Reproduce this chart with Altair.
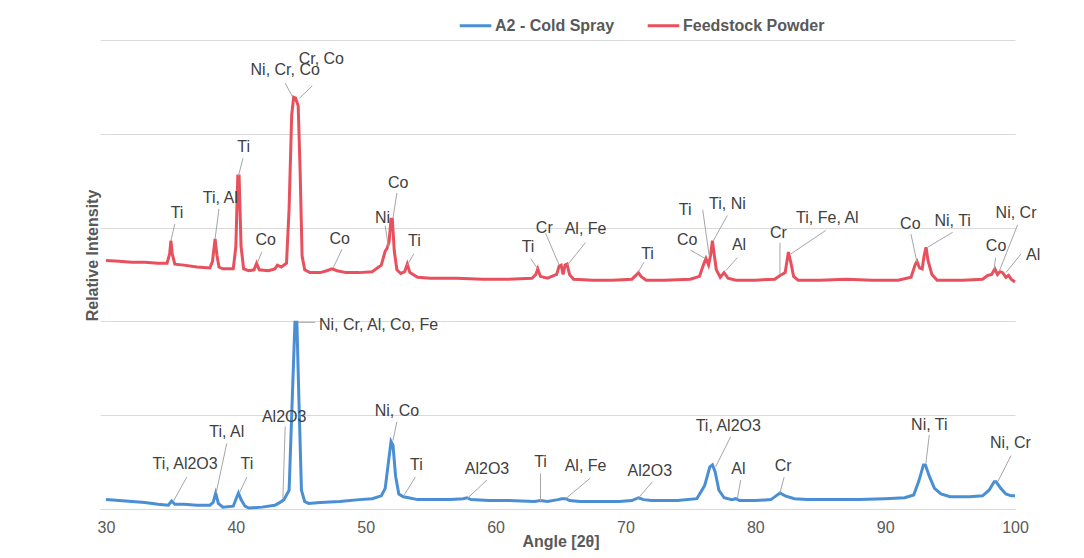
import altair as alt
import pandas as pd

SERIES = ["A2 - Cold Spray", "Feedstock Powder"]
COLORS = ["#4a8fd3", "#e8505d"]
X_TICKS = [30, 40, 50, 60, 70, 80, 90, 100]
Y_GRID = [0, 1, 2, 3, 4, 5]

# Feedstock powder pattern (offset upward)
feed_x = [30.0, 31.0, 32.0, 33.0, 34.0, 34.7, 34.9, 35.0, 35.1, 35.3, 36.0, 37.0, 38.0, 38.2, 38.4,
          38.55, 38.7, 39.0, 39.8, 40.0, 40.15, 40.25, 40.4, 40.6, 41.0, 41.4, 41.6, 41.8, 42.5,
          43.0, 43.2, 43.5, 43.9, 44.1, 44.3, 44.45, 44.6, 44.8, 44.95, 45.1, 45.3, 45.7, 46.5,
          47.0, 47.4, 47.8, 48.5, 49.5, 50.5, 51.2, 51.5, 51.65, 51.8, 51.95, 52.05, 52.2, 52.4,
          52.7, 53.0, 53.2, 53.4, 54.0, 55.0, 57.0, 59.0, 61.0, 62.8, 63.1, 63.25, 63.45, 64.0,
          64.7, 64.9, 65.05, 65.2, 65.35, 65.5, 65.7, 66.0, 67.5, 69.0, 70.5, 70.8, 71.0, 71.2,
          71.6, 73.0, 75.0, 75.7, 76.0, 76.2, 76.4, 76.55, 76.7, 76.85, 77.0, 77.3, 77.6, 77.9,
          78.5, 80.0, 81.5, 81.9, 82.05, 82.3, 82.55, 82.75, 82.95, 83.3, 85.0, 87.0, 89.0, 91.0,
          92.0, 92.3, 92.45, 92.65, 92.85, 93.0, 93.15, 93.3, 93.6, 94.0, 96.0, 97.5, 97.9, 98.2,
          98.45, 98.65, 98.85, 99.05, 99.3, 99.5, 99.7, 100.0]
feed_y = [2.65, 2.64, 2.63, 2.63, 2.62, 2.62, 2.72, 2.86, 2.72, 2.61, 2.60, 2.58, 2.57, 2.64, 2.88,
          2.70, 2.58, 2.56, 2.56, 2.80, 3.55, 3.55, 2.80, 2.56, 2.54, 2.55, 2.62, 2.55, 2.54,
          2.56, 2.60, 2.58, 2.62, 3.20, 4.20, 4.39, 4.38, 4.30, 3.60, 2.70, 2.55, 2.52, 2.52,
          2.54, 2.56, 2.54, 2.52, 2.52, 2.53, 2.60, 2.75, 2.78, 2.85, 3.09, 3.09, 2.75, 2.55,
          2.51, 2.53, 2.61, 2.52, 2.47, 2.46, 2.46, 2.45, 2.45, 2.46, 2.50, 2.56, 2.48, 2.46,
          2.50, 2.59, 2.60, 2.50, 2.60, 2.61, 2.50, 2.45, 2.44, 2.44, 2.45, 2.49, 2.52, 2.48,
          2.44, 2.44, 2.45, 2.48, 2.60, 2.67, 2.60, 2.70, 2.86, 2.70, 2.55, 2.47, 2.52, 2.46,
          2.44, 2.44, 2.45, 2.49, 2.50, 2.52, 2.74, 2.62, 2.48, 2.44, 2.44, 2.45, 2.44, 2.44,
          2.47, 2.60, 2.64, 2.57, 2.56, 2.70, 2.79, 2.65, 2.50, 2.44, 2.44, 2.45, 2.49, 2.50,
          2.56, 2.50, 2.53, 2.52, 2.47, 2.49, 2.45, 2.42]

# A2 cold spray pattern
cold_x = [30.0, 31.0, 32.0, 33.0, 34.0, 34.8, 35.05, 35.3, 36.0, 37.0, 38.0, 38.25, 38.45, 38.65,
          39.0, 39.8, 40.05, 40.2, 40.4, 40.7, 41.0, 42.0, 43.0, 43.4, 43.7, 44.1, 44.35, 44.55,
          44.7, 44.85, 45.05, 45.3, 45.6, 46.5, 48.0, 49.5, 50.5, 51.2, 51.5, 51.75, 51.95, 52.1,
          52.3, 52.55, 52.9, 53.3, 54.0, 55.0, 56.5, 57.5, 57.8, 58.1, 59.5, 61.0, 63.0, 63.45,
          64.0, 64.8, 65.1, 65.4, 65.7, 66.5, 68.0, 69.5, 70.5, 71.0, 71.4, 72.0, 74.0, 75.5,
          76.1, 76.5, 76.7, 76.9, 77.2, 77.6, 78.2, 78.5, 78.8, 80.0, 81.2, 81.6, 81.9, 82.3,
          83.0, 84.0, 86.0, 88.0, 90.0, 91.5, 92.2, 92.6, 92.95, 93.1, 93.4, 93.8, 94.3, 95.0,
          96.5, 97.5, 98.0, 98.4, 98.55, 98.9, 99.3, 99.7, 100.0]
cold_y = [0.10, 0.09, 0.08, 0.07, 0.05, 0.04, 0.085, 0.05, 0.05, 0.04, 0.04, 0.07, 0.17, 0.06,
          0.02, 0.03, 0.12, 0.17, 0.10, 0.03, 0.01, 0.02, 0.04, 0.07, 0.10, 0.20, 1.20, 1.99,
          1.99, 1.20, 0.20, 0.08, 0.06, 0.07, 0.08, 0.10, 0.11, 0.14, 0.22, 0.50, 0.72, 0.68,
          0.35, 0.16, 0.13, 0.12, 0.10, 0.10, 0.10, 0.11, 0.12, 0.10, 0.09, 0.09, 0.08, 0.09,
          0.08, 0.10, 0.11, 0.11, 0.09, 0.08, 0.08, 0.08, 0.09, 0.12, 0.10, 0.09, 0.09, 0.11,
          0.25, 0.45, 0.47, 0.40, 0.20, 0.12, 0.10, 0.11, 0.09, 0.09, 0.10, 0.14, 0.17, 0.14,
          0.11, 0.10, 0.10, 0.10, 0.11, 0.12, 0.15, 0.30, 0.47, 0.47, 0.35, 0.22, 0.16, 0.13,
          0.13, 0.14, 0.20, 0.29, 0.29, 0.22, 0.16, 0.14, 0.14]

# Peak labels: text, label position, leader line start and end
lbl_text = ["Ti", "Ti, Al", "Ti", "Co", "Ni, Cr, Co", "Cr, Co", "Co", "Ni", "Co", "Ti",
            "Ti", "Cr", "Al, Fe", "Ti", "Co", "Ti", "Ti, Ni", "Al", "Cr", "Ti, Fe, Al",
            "Co", "Ni, Ti", "Co", "Ni, Cr", "Al",
            "Ti, Al2O3", "Ti, Al", "Ti", "Al2O3", "Ni, Cr, Al, Co, Fe", "Ni, Co", "Ti", "Al2O3",
            "Ti", "Al, Fe", "Al2O3", "Ti, Al2O3", "Al", "Cr", "Ni, Ti", "Ni, Cr"]
lbl_x = [35.47, 38.8, 40.6, 42.3, 43.8, 46.58, 48.0, 51.3, 52.5, 53.75,
         62.5, 63.75, 66.93, 71.7, 74.75, 74.6, 77.85, 78.75, 81.78, 85.55,
         91.94, 95.2, 98.54, 100.08, 101.4,
         36.09, 39.3, 40.85, 43.72, 46.4, 52.4, 53.9, 59.34,
         63.46, 66.93, 71.88, 77.92, 78.7, 82.14, 93.4, 99.64]
lbl_y = [3.16, 3.32, 3.86, 2.87, 4.68, 4.80, 2.88, 3.10, 3.48, 2.86,
         2.79, 3.00, 2.98, 2.72, 2.87, 3.19, 3.25, 2.81, 2.94, 3.10,
         3.04, 3.07, 2.80, 3.16, 2.71,
         0.48, 0.82, 0.48, 0.98, 1.96, 1.04, 0.47, 0.43,
         0.50, 0.46, 0.41, 0.89, 0.43, 0.46, 0.90, 0.70]
lbl_align = ["center"] * 29 + ["left"] + ["center"] * 11
lead_x1 = [35.3, 38.7, 40.55, 42.0, 43.8, 45.88, 48.17, 51.5, 52.4, 53.7,
           62.7, 63.85, 66.93, 71.43, 75.0, 75.95, 77.85, 78.62, 81.9, 85.43,
           91.99, 95.2, 98.5, 100.2, 100.47,
           36.22, 39.3, 40.85, 43.8, 44.8, 52.4, 53.82, 59.34,
           63.46, 67.3, 72.07, 78.1, 78.88, 82.22, 93.4, 99.7]
lead_y1 = [3.04, 3.20, 3.74, 2.74, 4.54, 4.51, 2.77, 3.02, 3.37, 2.72,
           2.67, 2.94, 2.84, 2.63, 2.76, 3.19, 3.13, 2.68, 2.84, 2.97,
           2.93, 2.95, 2.68, 3.03, 2.72,
           0.34, 0.70, 0.34, 0.88, 1.99, 0.93, 0.34, 0.31,
           0.38, 0.33, 0.29, 0.77, 0.31, 0.34, 0.79, 0.57]
lead_x2 = [35.0, 38.4, 40.2, 41.65, 44.34, 44.9, 47.5, 51.75, 52.1, 53.2,
           63.25, 64.9, 65.52, 70.96, 76.16, 76.45, 76.77, 77.72, 81.9, 82.74,
           92.45, 93.27, 98.4, 98.8, 99.3,
           35.18, 38.48, 40.27, 43.62, 46.1, 52.1, 52.97, 57.8,
           63.46, 65.4, 70.96, 76.95, 78.62, 81.9, 93.14, 98.67]
lead_y2 = [2.86, 2.88, 3.55, 2.62, 4.40, 4.38, 2.57, 2.79, 3.10, 2.60,
           2.56, 2.60, 2.60, 2.52, 2.67, 2.70, 2.86, 2.54, 2.50, 2.72,
           2.63, 2.79, 2.56, 2.54, 2.52,
           0.08, 0.17, 0.17, 0.11, 1.99, 0.73, 0.15, 0.11,
           0.08, 0.11, 0.11, 0.45, 0.11, 0.17, 0.49, 0.29]

lines_df = pd.concat([
    pd.DataFrame({"series": SERIES[0], "angle": cold_x, "intensity": cold_y}),
    pd.DataFrame({"series": SERIES[1], "angle": feed_x, "intensity": feed_y}),
], ignore_index=True)

labels_df = pd.DataFrame({
    "text": lbl_text, "lx": lbl_x, "ly": lbl_y, "align": lbl_align,
    "x1": lead_x1, "y1": lead_y1, "x2": lead_x2, "y2": lead_y2,
})

FONT = "Liberation Sans"
xscale = alt.Scale(domain=[30, 100], nice=False, zero=False)
yscale = alt.Scale(domain=[0, 5], nice=False, zero=True)

lines = alt.Chart(lines_df).mark_line(strokeWidth=3).encode(
    x=alt.X("angle:Q", scale=xscale, axis=alt.Axis(
        values=X_TICKS, grid=False, domain=False, ticks=False, labelFlush=False,
        labelFontSize=16, labelColor="#595959", labelPadding=10, labelFont=FONT,
        title="Angle [2θ]", titleFontSize=16, titleFontWeight="bold", titleColor="#595959",
        titleFont=FONT, titleY=32, titleBaseline="middle")),
    y=alt.Y("intensity:Q", scale=yscale, axis=alt.Axis(
        values=Y_GRID, labels=False, ticks=True, tickSize=6, tickColor="#d9d9d9",
        domain=False, grid=True, gridColor="#d9d9d9", gridWidth=1.2,
        title="Relative Intensity", titleFontSize=16, titleFontWeight="bold",
        titleColor="#595959", titleFont=FONT, titleX=-6, titleY=215, titleAngle=-90,
        titleBaseline="bottom")),
    color=alt.Color("series:N", scale=alt.Scale(domain=SERIES, range=COLORS),
                    legend=alt.Legend(title=None, orient="none", legendX=352, legendY=-32,
                                      direction="horizontal", symbolType="stroke",
                                      symbolStrokeWidth=3, symbolSize=1000,
                                      labelFontSize=16, labelFontWeight="bold",
                                      labelColor="#595959", labelFont=FONT,
                                      columnPadding=26, labelOffset=2)),
    order=alt.Order("angle:Q"),
)

leaders = alt.Chart(labels_df).mark_rule(color="#a6a6a6", strokeWidth=1).encode(
    x=alt.X("x1:Q", scale=xscale), y=alt.Y("y1:Q", scale=yscale),
    x2="x2:Q", y2="y2:Q",
)

text_c = alt.Chart(labels_df).transform_filter(alt.datum.align == "center").mark_text(
    fontSize=16, font=FONT, color="#404040", align="center", baseline="middle"
).encode(x=alt.X("lx:Q", scale=xscale), y=alt.Y("ly:Q", scale=yscale), text="text:N")

text_l = alt.Chart(labels_df).transform_filter(alt.datum.align == "left").mark_text(
    fontSize=16, font=FONT, color="#404040", align="left", baseline="middle"
).encode(x=alt.X("lx:Q", scale=xscale), y=alt.Y("ly:Q", scale=yscale), text="text:N")

chart = alt.layer(lines, leaders, text_c, text_l).properties(
    width=909, height=469,
    autosize=alt.AutoSizeParams(type="none"),
    padding={"left": 98, "top": 32, "right": 50, "bottom": 46},
    background="white",
).configure_view(stroke=None)

chart.save("out.html", embed_options={"renderer": "svg", "actions": False})
